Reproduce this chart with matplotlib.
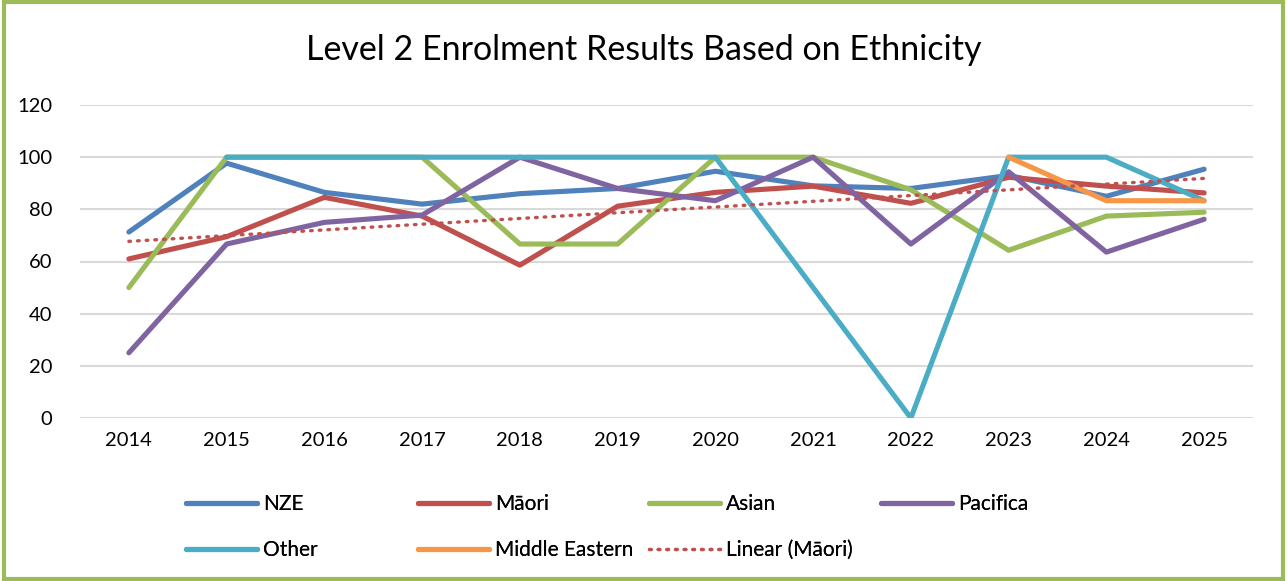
import matplotlib
matplotlib.use('Agg')
import matplotlib.pyplot as plt
from matplotlib.patches import Rectangle
import numpy as np

# data
years = ['2014', '2015', '2016', '2017', '2018', '2019', '2020', '2021', '2022', '2023', '2024', '2025']
nze = [71.3, 97.7, 86.5, 82.0, 86.0, 88.0, 94.6, 89.0, 88.0, 93.0, 85.0, 95.4]
maori = [61.0, 69.5, 84.6, 77.4, 58.6, 81.2, 86.5, 88.9, 82.3, 92.3, 88.9, 86.3]
asian = [50.0, 100, 100, 100, 66.7, 66.7, 100, 100, 87.5, 64.3, 77.4, 78.9]
pacifica = [25.0, 66.7, 75.0, 77.8, 100, 88.0, 83.3, 100, 66.7, 94.4, 63.6, 76.2]
other = [np.nan, 100, 100, 100, 100, 100, 100, 50.0, 0.0, 100, 100, 83.3]
middle_eastern = [np.nan] * 9 + [100, 83.3, 83.3]

series = [('NZE', nze, '#4F81BD'),
          ('Māori', maori, '#C0504D'),
          ('Asian', asian, '#9BBB59'),
          ('Pacifica', pacifica, '#8064A2'),
          ('Other', other, '#4BACC6'),
          ('Middle Eastern', middle_eastern, '#F79646')]

plt.rcParams['font.family'] = ['Lato', 'DejaVu Sans']

fig = plt.figure(figsize=(12.87, 5.81), dpi=100)
ax = fig.add_axes([80/1287, 1-418/581, (1253-80)/1287, (418-105)/581])

x = np.arange(len(years))
lines = []
for name, vals, col in series:
    l, = ax.plot(x, vals, color=col, lw=3.7, label=name, solid_capstyle='round',
                 solid_joinstyle='round')
    lines.append(l)

# linear trendline of Maori
k, b = np.polyfit(x, maori, 1)
l, = ax.plot(x, k*x + b, color='#C0504D', lw=2.4, ls=(0, (0.5, 2.1)),
             dash_capstyle='round', label='Linear (Māori)')
lines.append(l)

ax.set_xlim(-0.5, 11.5)
ax.set_ylim(0, 120)
ax.set_yticks(range(0, 121, 20))
ax.set_xticks(x)
ax.set_xticklabels(years)
ax.grid(axis='y', color='#D9D9D9', lw=1.5)
ax.set_axisbelow(True)
for s in ax.spines.values():
    s.set_visible(False)
ax.tick_params(length=0, labelsize=14.5, colors='black', pad=10)
ax.tick_params(axis='y', pad=20)

fig.text(0.5, 1-50/581, 'Level 2 Enrolment Results Based on Ethnicity',
         ha='center', va='center', fontsize=24.5)

# legend: 4 fixed-width columns, filled row by row
cols = [[lines[0], lines[4]], [lines[1], lines[5]], [lines[2], lines[6]], [lines[3]]]
col_x = [186, 418, 649, 881]
for hs, cx in zip(cols, col_x):
    lg = fig.legend(handles=hs, loc='upper left', bbox_to_anchor=(cx/1287, 1-494.5/581),
                    frameon=False, fontsize=15, handlelength=3.4, handletextpad=0.3,
                    labelspacing=1.22, borderpad=0, borderaxespad=0)
    fig.add_artist(lg)

fig.add_artist(Rectangle((0.003, 0.004), 0.994, 0.992, transform=fig.transFigure,
                         fill=False, ec='#9BBB59', lw=3))

fig.savefig('out.png', dpi=100)
